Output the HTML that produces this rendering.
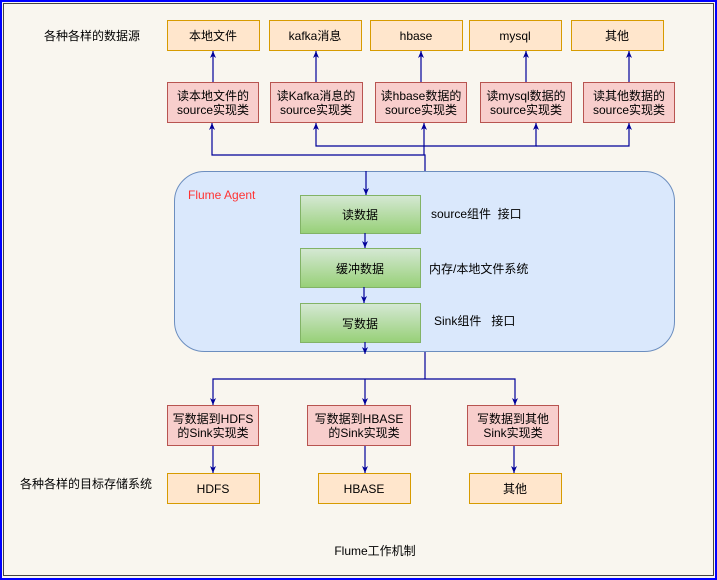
<!DOCTYPE html>
<html><head><meta charset="utf-8"><style>
html,body{margin:0;padding:0;background:#f9f6ef;}
svg{display:block;font-family:"Liberation Sans","Noto Sans CJK SC",sans-serif;}
</style></head><body>
<svg width="717" height="580" viewBox="0 0 717 580" xmlns="http://www.w3.org/2000/svg">
<defs>
<marker id="a" markerWidth="8" markerHeight="8" refX="7" refY="4" orient="auto" markerUnits="userSpaceOnUse"><path d="M0,1 L7,4 L0,7 L2,4 Z" fill="#000099"/></marker>
<linearGradient id="g" x1="0" y1="0" x2="0" y2="1"><stop offset="0" stop-color="#d5e8d4"/><stop offset="1" stop-color="#97d077"/></linearGradient>
</defs>
<rect x="0" y="0" width="717" height="580" fill="#f9f6ef"/>
<rect x="1" y="1" width="715" height="578" fill="none" stroke="#0000ff" stroke-width="2"/>
<rect x="3.5" y="3.5" width="710" height="572" fill="none" stroke="#444" stroke-width="1"/>
<g font-size="12" fill="#000">
<text x="44" y="40">各种各样的数据源</text>
<text x="20" y="488">各种各样的目标存储系统</text>
<text x="375" y="555" text-anchor="middle">Flume工作机制</text>
</g>
<g fill="#ffe6cc" stroke="#d79b00">
<rect x="167.5" y="20.5" width="92" height="30"/><rect x="269.5" y="20.5" width="92" height="30"/><rect x="370.5" y="20.5" width="92" height="30"/><rect x="469.5" y="20.5" width="92" height="30"/><rect x="571.5" y="20.5" width="92" height="30"/>
<rect x="167.5" y="473.5" width="92" height="30"/><rect x="318.5" y="473.5" width="92" height="30"/><rect x="469.5" y="473.5" width="92" height="30"/>
</g>
<g font-size="12" text-anchor="middle" fill="#000">
<text x="213" y="40">本地文件</text><text x="315" y="40">kafka消息</text><text x="416" y="40">hbase</text><text x="515" y="40">mysql</text><text x="617" y="40">其他</text>
<text x="213" y="493">HDFS</text><text x="364" y="493">HBASE</text><text x="515" y="493">其他</text>
</g>
<g fill="#f8cecc" stroke="#b85450">
<rect x="167.5" y="82.5" width="91" height="40"/><rect x="270.5" y="82.5" width="92" height="40"/><rect x="375.5" y="82.5" width="91" height="40"/><rect x="480.5" y="82.5" width="91" height="40"/><rect x="583.5" y="82.5" width="91" height="40"/>
<rect x="167.5" y="405.5" width="91" height="40"/><rect x="307.5" y="405.5" width="103" height="40"/><rect x="467.5" y="405.5" width="91" height="40"/>
</g>
<g font-size="12" text-anchor="middle" fill="#000">
<text x="213" y="100">读本地文件的</text><text x="213" y="114">source实现类</text>
<text x="316" y="100">读Kafka消息的</text><text x="316" y="114">source实现类</text>
<text x="421" y="100">读hbase数据的</text><text x="421" y="114">source实现类</text>
<text x="526" y="100">读mysql数据的</text><text x="526" y="114">source实现类</text>
<text x="629" y="100">读其他数据的</text><text x="629" y="114">source实现类</text>
<text x="213" y="423">写数据到HDFS</text><text x="213" y="437">的Sink实现类</text>
<text x="359" y="423">写数据到HBASE</text><text x="364" y="437">的Sink实现类</text>
<text x="513" y="423">写数据到其他</text><text x="513" y="437">Sink实现类</text>
</g>
<rect x="174.5" y="171.5" width="500" height="180" rx="30" fill="#dae8fc" stroke="#6c8ebf"/>
<text x="188" y="199" font-size="12" fill="#ff3333">Flume Agent</text>
<g fill="url(#g)" stroke="#82b366">
<rect x="300.5" y="195.5" width="120" height="38"/><rect x="300.5" y="248.5" width="120" height="39"/><rect x="300.5" y="303.5" width="120" height="39"/>
</g>
<g font-size="12" fill="#000">
<text x="360" y="219" text-anchor="middle">读数据</text>
<text x="360" y="273" text-anchor="middle">缓冲数据</text>
<text x="360" y="328" text-anchor="middle">写数据</text>
<text x="431" y="218">source组件&#160;&#160;接口</text>
<text x="429" y="273">内存/本地文件系统</text>
<text x="434" y="325">Sink组件&#160;&#160;&#160;接口</text>
</g>
<g stroke="#000099" stroke-width="1.2" fill="none">
<line x1="213" y1="82" x2="213" y2="51" marker-end="url(#a)"/>
<line x1="316" y1="82" x2="316" y2="51" marker-end="url(#a)"/>
<line x1="421" y1="82" x2="421" y2="51" marker-end="url(#a)"/>
<line x1="526" y1="82" x2="526" y2="51" marker-end="url(#a)"/>
<line x1="629" y1="82" x2="629" y2="51" marker-end="url(#a)"/>
<polyline points="425,171 425,155 212,155 212,123" marker-end="url(#a)"/>
<polyline points="425,146 316,146 316,123" marker-end="url(#a)"/>
<line x1="424" y1="155" x2="424" y2="123" marker-end="url(#a)"/>
<polyline points="425,146 536,146 536,123" marker-end="url(#a)"/>
<polyline points="536,146 629,146 629,123" marker-end="url(#a)"/>
<line x1="366" y1="171" x2="366" y2="195" marker-end="url(#a)"/>
<line x1="365" y1="233" x2="365" y2="248" marker-end="url(#a)"/>
<line x1="364" y1="287" x2="364" y2="303" marker-end="url(#a)"/>
<line x1="365" y1="342" x2="365" y2="354" marker-end="url(#a)"/>
<line x1="425" y1="352" x2="425" y2="379"/>
<polyline points="425,379 213,379 213,405" marker-end="url(#a)"/>
<line x1="365" y1="379" x2="365" y2="405" marker-end="url(#a)"/>
<polyline points="425,379 515,379 515,405" marker-end="url(#a)"/>
<line x1="213" y1="446" x2="213" y2="473" marker-end="url(#a)"/>
<line x1="365" y1="446" x2="365" y2="473" marker-end="url(#a)"/>
<line x1="514" y1="446" x2="514" y2="473" marker-end="url(#a)"/>
</g>
</svg>
</body></html>
